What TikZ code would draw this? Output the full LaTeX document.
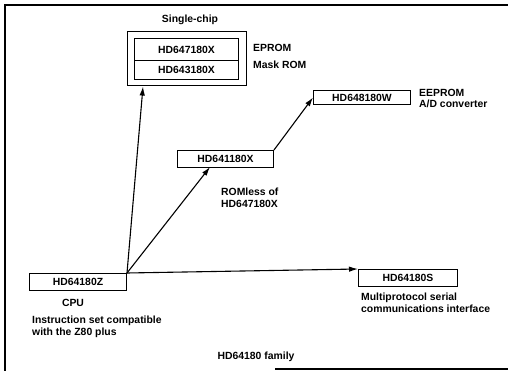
\documentclass[tikz,border=0pt]{standalone}
\usepackage{fontspec}
\setmainfont{Liberation Sans}
\usetikzlibrary{arrows.meta,fit}
\begin{document}
\begin{tikzpicture}[x=1pt,y=-1pt,
  every node/.style={font=\fontsize{10.4}{12.5}\selectfont\bfseries},
  chip/.style={draw,line width=1pt,inner sep=0pt,anchor=north west},
  lbl/.style={inner sep=0pt,align=left,anchor=west},
  arr/.style={line width=1.1pt,-{Latex[length=9pt,width=5.5pt]}},
  frame/.style={line width=1.2pt}]
\useasboundingbox (0,0) rectangle (508,371);
% frame
\draw[frame] (508,5) -- (5,5) -- (5,371);
\draw[frame] (275,369) -- (508,369);
% single-chip group
\node[chip,minimum width=104pt,minimum height=22pt] (ra) at (134,38) {HD647180X};
\node[chip,minimum width=104pt,minimum height=19pt] (rb) at (134,60) {HD643180X};
\node[draw,line width=1pt,fit=(ra)(rb),inner xsep=7pt,inner ysep=6pt] (grp) {};
\node[inner sep=0pt] (sc) at (190,20) {Single-chip};
\node[lbl] (eprom) at (253,48) {EPROM};
\node[lbl] (mrom) at (253,65) {Mask ROM};
% HD648180W
\node[chip,minimum width=97pt,minimum height=14pt] (w) at (313,90) {HD648180W};
\node[lbl] (ee) at (419,93) {EEPROM};
\node[lbl] (ad) at (419,104) {A/D converter};
% HD641180X
\node[chip,minimum width=96pt,minimum height=17pt] (x) at (177,150) {HD641180X};
\node[lbl] (rl) at (221,198) {ROMless of\\HD647180X};
% HD64180Z
\node[chip,minimum width=97pt,minimum height=17pt] (z) at (29,273) {HD64180Z};
\node[inner sep=0pt] (cpu) at (73,303) {CPU};
\node[lbl] (ins) at (32,327) {Instruction set compatible\\with the Z80 plus};
% HD64180S
\node[chip,minimum width=99pt,minimum height=17pt] (s) at (358,269) {HD64180S};
\node[lbl] (mp) at (361,303) {Multiprotocol serial\\communications interface};
% caption
\node[inner sep=0pt] (fam) at (256,357) {HD64180 family};
% arrows
\coordinate (o) at (z.north east);
\draw[arr] (o) -- (grp.south west -| 143,0);
\draw[arr] (o) -- (210,167);
\draw[arr] (o) -- (s.north west);
\draw[arr] (x.north east) -- (w.west);
\end{tikzpicture}
\end{document}
